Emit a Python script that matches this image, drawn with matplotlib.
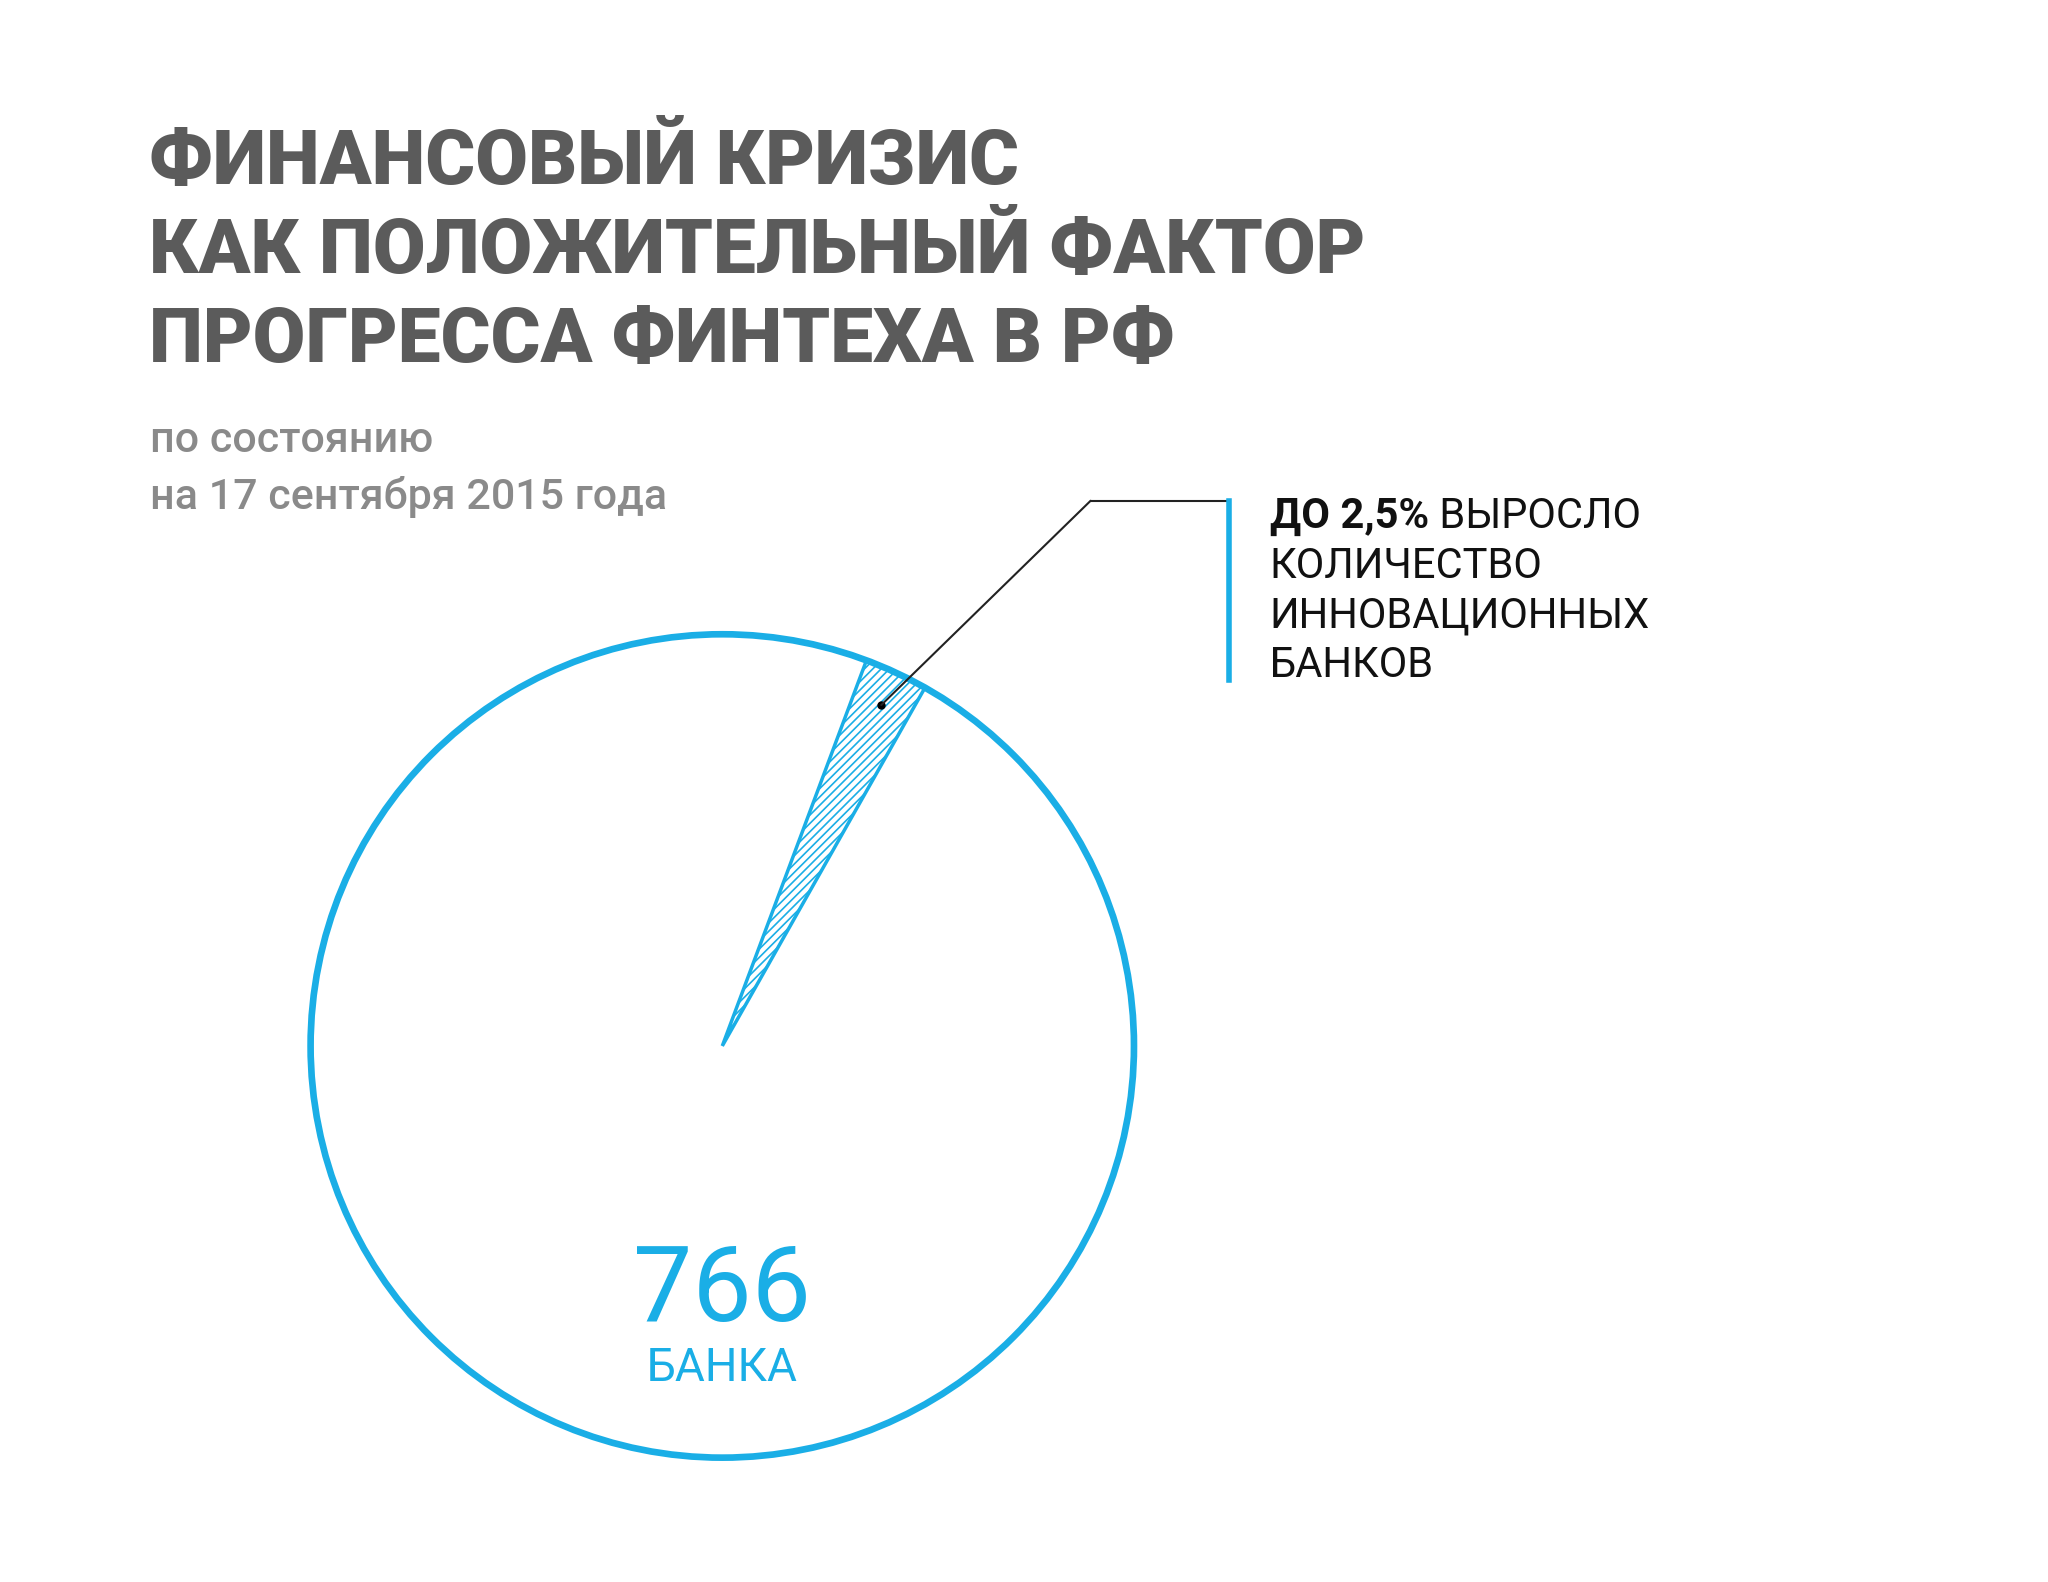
import matplotlib
matplotlib.use("Agg")
import matplotlib.pyplot as plt
import numpy as np
from matplotlib.lines import Line2D

shares = [2.5, 97.5]
total_banks = 766
title_lines = ["ФИНАНСОВЫЙ КРИЗИС", "КАК ПОЛОЖИТЕЛЬНЫЙ ФАКТОР", "ПРОГРЕССА ФИНТЕХА В РФ"]
subtitle_lines = ["по состоянию", "на 17 сентября 2015 года"]
note_bold = "ДО 2,5%"
note_lines = [" ВЫРОСЛО", "КОЛИЧЕСТВО", "ИННОВАЦИОННЫХ", "БАНКОВ"]

BLUE = "#1aaee6"
GRAY = "#5b5b5b"
plt.rcParams['font.family'] = ['Roboto', 'DejaVu Sans']
plt.rcParams['hatch.linewidth'] = 1.2

W, H = 1568, 1210  # reference layout units
fx = lambda x: x / W
fy = lambda y: 1 - y / H

fig = plt.figure(figsize=(20.48, 15.82), dpi=100)
fig.patch.set_facecolor("white")

for i, t in enumerate(title_lines):
    fig.text(fx(114), fy(125 + i * 68), t, fontsize=55, fontweight='heavy', color=GRAY, va='center', ha='left')
for i, t in enumerate(subtitle_lines):
    fig.text(fx(115), fy(337 + i * 43), t, fontsize=31, fontweight='medium', color="#8a8a8a", va='center', ha='left')

cx, cy, r = 553, 800, 320
ax = fig.add_axes([fx(cx - r), fy(cy + r), 2 * r / W, 2 * r / H])

start = 60.5
wedges, _ = ax.pie(shares, radius=0.985, startangle=start, counterclock=True,
                   colors=['none', 'none'])
ax.set_xlim(-1, 1); ax.set_ylim(-1, 1); ax.set_aspect('equal'); ax.axis('off')
wedges[0].set_edgecolor(BLUE); wedges[0].set_hatch('////'); wedges[0].set_linewidth(2.5)
wedges[1].set_edgecolor('none')
ax.add_patch(plt.Circle((0, 0), 0.985, fill=False, ec=BLUE, lw=4.8))

mid = np.deg2rad(start + shares[0] / sum(shares) * 360 / 2)
px, py = 0.9 * np.cos(mid), 0.9 * np.sin(mid)
ax.plot([px], [py], 'o', color='black', ms=5)
ax.annotate("", xy=(px, py), xycoords='data', xytext=(fx(835), fy(383)), textcoords='figure fraction',
            arrowprops=dict(arrowstyle='-', color='#222222', lw=1.5, shrinkA=0, shrinkB=0))
fig.add_artist(Line2D([fx(835), fx(940)], [fy(383), fy(383)], color='#222222', lw=1.5))
fig.add_artist(Line2D([fx(941), fx(941)], [fy(383), fy(520)], color=BLUE, lw=4))

tb = fig.text(fx(972), fy(395), note_bold, fontsize=30, fontweight='bold', color='#111111', va='center', ha='left')
fig.canvas.draw()
bb = tb.get_window_extent().transformed(fig.transFigure.inverted())
fig.text(bb.x1, fy(395), note_lines[0], fontsize=30, color='#111111', va='center', ha='left')
for i, t in enumerate(note_lines[1:]):
    fig.text(fx(972), fy(433 + i * 38), t, fontsize=30, color='#111111', va='center', ha='left')

ax.text(0, -0.59, str(total_banks), fontsize=76, color=BLUE, ha='center', va='center')
ax.text(0, -0.77, "БАНКА", fontsize=33, color=BLUE, ha='center', va='center')

fig.savefig("out.png", dpi=100, facecolor='white')
